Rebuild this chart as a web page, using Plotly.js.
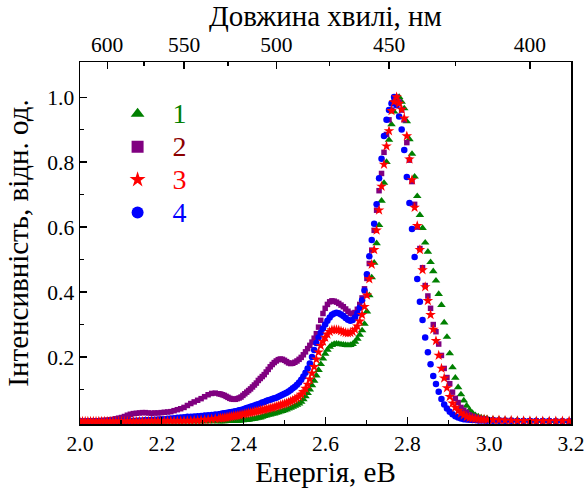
<!DOCTYPE html>
<html><head><meta charset="utf-8">
<script src="https://cdn.plot.ly/plotly-3.0.1.min.js"></script>
<style>html,body{margin:0;padding:0;background:#fff}#chart{width:587px;height:490px}</style>
</head><body><div id="chart"></div>
<script>
// Wavelength grid of the measured spectra (nm)
const wavelengthNm = [
388,390,392,394,396,398,400,402,404,406,408,410,412,414,
415,416,417,418,419,420,421,422,423,424,
425,426,427,428,429,430,431,432,433,434,
435,436,437,438,439,440,441,442,443,444,
445,446,447,448,449,450,451,452,453,454,
455,456,457,458,459,460,461,462,463,464,
465,466,467,468,469,470,471,472,473,474,
475,476,477,478,479,480,481,482,483,484,
485,486,487,488,489,490,491,492,493,494,
495,496,497,498,499,500,501,502,503,504,
505,506,507,508,509,510,511,512,513,514,
515,516,517,518,519,520,521,522,523,524,
525,526,527,528,529,530,
532,534,536,538,540,542,544,546,548,550,
552,554,556,558,560,562,564,566,568,570,
572,574,576,578,580,582,584,586,588,590,
592,594,596,598,600,602,604,606,608,610,
612,614,616,618,620];

// Series 1 (green triangles)
const series1 = [
0.003,0.004,0.004,0.004,0.004,0.005,0.005,0.005,0.006,0.006,0.007,0.008,0.009,0.011,
0.012,0.014,0.017,0.021,0.028,0.037,0.05,0.066,0.085,0.107,
0.136,0.168,0.211,0.262,0.306,0.36,0.394,0.435,0.464,0.492,
0.524,0.552,0.597,0.637,0.695,0.755,0.825,0.87,0.925,0.965,
0.985,1.0,0.99,0.955,0.916,0.868,0.80,0.736,0.681,0.606,
0.55,0.49,0.445,0.39,0.34,0.302,0.282,0.268,0.256,0.247,
0.24,0.237,0.236,0.237,0.238,0.239,0.24,0.241,0.24,0.237,
0.231,0.222,0.21,0.195,0.178,0.16,0.143,0.127,0.113,0.10,
0.089,0.079,0.07,0.062,0.057,0.053,0.05,0.047,0.044,0.041,
0.038,0.036,0.034,0.032,0.03,0.028,0.026,0.025,0.023,0.022,
0.02,0.018,0.016,0.014,0.013,0.011,0.01,0.009,0.008,0.007,
0.006,0.006,0.005,0.005,0.004,0.004,0.004,0.003,0.003,0.003,
0.003,0.003,0.002,0.002,0.002,0.002,
0.002,0.002,0.002,0.002,0.002,0.002,0.002,0.002,0.002,0.002,
0.002,0.002,0.002,0.002,0.002,0.001,0.001,0.001,0.001,0.001,
0.001,0.001,0.001,0.001,0.001,0.001,0.001,0.001,0.001,0.001,
0.001,0.001,0.001,0.001,0.001,0.001,0.001,0.001,0.001,0.001,
0.001,0.001,0.001,0.001,0.001];

// Series 2 (purple squares)
const series2 = [
0.003,0.003,0.003,0.003,0.003,0.003,0.004,0.004,0.004,0.005,0.005,0.006,0.007,0.008,
0.009,0.01,0.012,0.015,0.018,0.022,0.03,0.036,0.045,0.06,
0.073,0.092,0.118,0.137,0.165,0.205,0.24,0.278,0.30,0.35,
0.388,0.42,0.475,0.534,0.60,0.67,0.74,0.806,0.86,0.93,
0.96,0.985,1.0,0.985,0.96,0.93,0.885,0.83,0.765,0.712,
0.652,0.59,0.529,0.488,0.442,0.41,0.382,0.362,0.347,0.337,
0.333,0.335,0.341,0.348,0.355,0.36,0.365,0.369,0.372,0.373,
0.37,0.362,0.35,0.334,0.313,0.292,0.272,0.258,0.246,0.236,
0.226,0.216,0.207,0.199,0.193,0.188,0.184,0.181,0.18,0.182,
0.186,0.19,0.193,0.194,0.192,0.188,0.183,0.177,0.17,0.162,
0.154,0.146,0.14,0.134,0.128,0.12,0.114,0.108,0.102,0.097,
0.092,0.087,0.082,0.077,0.074,0.072,0.07,0.07,0.071,0.073,
0.076,0.079,0.082,0.084,0.086,0.087,
0.089,0.088,0.084,0.078,0.072,0.067,0.062,0.057,0.051,0.045,
0.041,0.038,0.035,0.032,0.031,0.03,0.029,0.028,0.028,0.027,
0.028,0.029,0.029,0.028,0.027,0.026,0.024,0.021,0.017,0.014,
0.012,0.01,0.008,0.007,0.006,0.005,0.005,0.004,0.004,0.003,
0.003,0.003,0.002,0.002,0.002];

// Series 3 (red stars)
const series3 = [
0.003,0.003,0.003,0.003,0.003,0.003,0.004,0.004,0.004,0.005,0.005,0.006,0.006,0.007,
0.008,0.008,0.009,0.01,0.011,0.013,0.016,0.021,0.027,0.035,
0.045,0.058,0.078,0.105,0.135,0.165,0.205,0.25,0.285,0.33,
0.373,0.416,0.468,0.53,0.604,0.66,0.745,0.809,0.88,0.935,
0.962,0.98,1.0,0.985,0.958,0.896,0.849,0.793,0.725,0.652,
0.59,0.53,0.485,0.44,0.39,0.355,0.33,0.31,0.295,0.285,
0.278,0.275,0.274,0.275,0.277,0.28,0.283,0.284,0.284,0.283,
0.278,0.27,0.26,0.248,0.235,0.215,0.193,0.17,0.15,0.132,
0.116,0.103,0.093,0.085,0.079,0.074,0.07,0.067,0.064,0.061,
0.058,0.056,0.054,0.052,0.05,0.048,0.046,0.044,0.043,0.041,
0.04,0.038,0.037,0.036,0.034,0.033,0.032,0.03,0.029,0.028,
0.026,0.025,0.023,0.022,0.021,0.02,0.019,0.018,0.017,0.016,
0.015,0.014,0.013,0.012,0.012,0.011,
0.01,0.009,0.008,0.007,0.006,0.005,0.005,0.004,0.004,0.004,
0.003,0.003,0.003,0.003,0.003,0.003,0.003,0.003,0.003,0.003,
0.002,0.002,0.002,0.002,0.002,0.002,0.002,0.002,0.002,0.002,
0.002,0.002,0.002,0.002,0.002,0.002,0.002,0.002,0.002,0.002,
0.002,0.002,0.002,0.002,0.002];

// Series 4 (blue circles)
const series4 = [
0.002,0.002,0.002,0.003,0.003,0.003,0.003,0.003,0.003,0.004,0.004,0.004,0.004,0.004,
0.005,0.005,0.005,0.006,0.006,0.007,0.008,0.009,0.011,0.014,
0.018,0.024,0.032,0.042,0.054,0.071,0.093,0.117,0.142,0.178,
0.215,0.26,0.314,0.37,0.44,0.508,0.594,0.674,0.754,0.837,
0.90,0.94,0.975,1.0,0.98,0.96,0.93,0.88,0.81,0.75,
0.67,0.61,0.56,0.51,0.455,0.405,0.375,0.352,0.335,0.322,
0.314,0.312,0.315,0.32,0.326,0.331,0.335,0.336,0.334,0.33,
0.322,0.312,0.30,0.288,0.275,0.26,0.243,0.222,0.20,0.18,
0.165,0.152,0.14,0.13,0.122,0.115,0.109,0.104,0.099,0.094,
0.09,0.087,0.084,0.081,0.078,0.075,0.073,0.071,0.069,0.067,
0.065,0.062,0.06,0.057,0.055,0.053,0.051,0.049,0.047,0.045,
0.043,0.041,0.039,0.037,0.036,0.034,0.033,0.032,0.031,0.03,
0.029,0.028,0.027,0.026,0.025,0.024,
0.023,0.022,0.021,0.02,0.019,0.018,0.017,0.016,0.016,0.015,
0.014,0.013,0.012,0.011,0.01,0.009,0.009,0.008,0.007,0.007,
0.006,0.006,0.005,0.005,0.004,0.004,0.004,0.003,0.003,0.003,
0.003,0.003,0.003,0.003,0.002,0.002,0.002,0.002,0.002,0.002,
0.002,0.002,0.002,0.002,0.002];

const seriesNames = ['1','2','3','4'];
const seriesColors = ['#008000','#800080','#ff0000','#0000ff'];
const labelColors = ['#008000','#8b0000','#ff0000','#0000ff'];
const yTickVals = [0.2,0.4,0.6,0.8,1.0];
const yMinorVals = [0.1,0.3,0.5,0.7,0.9];
const topTickNm = [600,550,500,450,400];
const topMinorNm = [575,525,475,425];

const HC = 1239.84; // eV*nm
const energy = wavelengthNm.map(w => HC / w);
const FONT = '"Liberation Serif", serif';

function mk(y, idx, symbol, size, rank){
  return {
    x: energy, y: y, type: 'scatter', mode: 'markers',
    name: '<span style="color:' + labelColors[idx] + ';font-size:28px">' + seriesNames[idx] + '</span>',
    legendrank: rank,
    marker: {symbol: symbol, size: size, color: seriesColors[idx], line: {width: 0}},
    hoverinfo: 'x+y'
  };
}

const traces = [
  mk(series1, 0, 'triangle-up', 7.5, 1),
  mk(series2, 1, 'square', 5.5, 2),
  mk(series4, 3, 'circle', 6.5, 4),
  mk(series3, 2, 'star', 8, 3)
];

const axisCommon = {
  showgrid: false, zeroline: false, showline: true, linecolor: '#000', linewidth: 1.5,
  ticks: 'inside', ticklen: 7, tickwidth: 1.2, tickcolor: '#000',
  tickfont: {family: FONT, size: 21.5, color: '#000'}
};

const layout = {
  width: 587, height: 490,
  margin: {l: 80, r: 16, t: 62, b: 66},
  paper_bgcolor: '#fff', plot_bgcolor: '#fff',
  font: {family: FONT, size: 21.5, color: '#000'},
  showlegend: true,
  legend: {x: 0.046, y: 0.916, xanchor: 'left', yanchor: 'top', bgcolor: 'rgba(0,0,0,0)',
           font: {family: FONT, size: 23}, itemsizing: 'constant', itemwidth: 60, tracegroupgap: 0},
  xaxis: Object.assign({}, axisCommon, {
    range: [2, 3.2], tick0: 2, dtick: 0.2, tickformat: '.1f',
    minor: {tick0: 2, dtick: 0.1, ticks: 'inside', ticklen: 4, tickwidth: 1.2, tickcolor: '#000'},
    title: {text: 'Енергія, еВ', font: {family: FONT, size: 29}, standoff: 0}
  }),
  xaxis2: Object.assign({}, axisCommon, {
    overlaying: 'x', side: 'top', anchor: 'y', range: [2, 3.2],
    tickmode: 'array', tickvals: topTickNm.map(w => HC / w), ticktext: topTickNm.map(String),
    minor: {tickmode: 'array', tickvals: topMinorNm.map(w => HC / w), ticks: 'inside', ticklen: 4, tickwidth: 1.2, tickcolor: '#000'},
    title: {text: 'Довжина хвилі, нм', font: {family: FONT, size: 29}, standoff: 0}
  }),
  yaxis: Object.assign({}, axisCommon, {
    range: [-0.006, 1.108], mirror: true,
    tickmode: 'array', tickvals: yTickVals, ticktext: yTickVals.map(v => v.toFixed(1)),
    minor: {tickmode: 'array', tickvals: yMinorVals, ticks: 'inside', ticklen: 4, tickwidth: 1.2, tickcolor: '#000'},
    title: {text: 'Інтенсивність, відн. од.', font: {family: FONT, size: 29}, standoff: 10}
  })
};

traces.push({x: [], y: [], xaxis: 'x2', yaxis: 'y', type: 'scatter', mode: 'markers', showlegend: false, hoverinfo: 'skip'});

Plotly.newPlot('chart', traces, layout, {displayModeBar: false, staticPlot: true});
</script>
</body></html>
